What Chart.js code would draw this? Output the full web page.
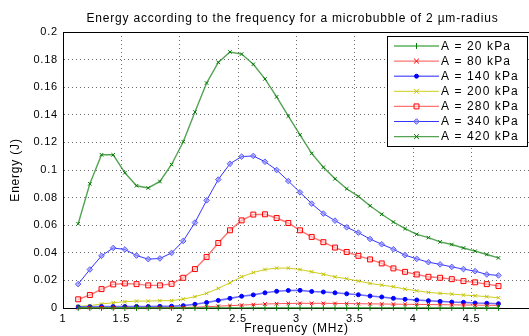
<!DOCTYPE html>
<html><head><meta charset="utf-8">
<script src="https://cdn.jsdelivr.net/npm/chart.js@4"></script>
<style>html,body{margin:0;padding:0;overflow:hidden;background:#fff}#wrap{width:535px;height:336px}</style>
</head><body><div id="wrap"><canvas id="c" width="535" height="336"></canvas></div>
<script>
const frequencies = [1.13,1.23,1.33,1.43,1.53,1.63,1.73,1.83,1.93,2.03,2.13,2.23,2.33,2.43,2.53,2.63,2.73,2.83,2.93,3.03,3.13,3.23,3.33,3.43,3.53,3.63,3.73,3.83,3.93,4.03,4.13,4.23,4.33,4.43,4.53,4.63,4.73];
const e20  = [0.0001,0.0001,0.0001,0.0001,0.0001,0.0001,0.0001,0.0001,0.0001,0.0001,0.0001,0.0002,0.0002,0.0002,0.0002,0.0002,0.0002,0.0002,0.0002,0.0002,0.0002,0.0002,0.0002,0.0002,0.0002,0.0002,0.0002,0.0002,0.0002,0.0002,0.0002,0.0001,0.0001,0.0001,0.0001,0.0001,0.0001];
const e80  = [0.0002,0.0002,0.0003,0.0003,0.0003,0.0003,0.0003,0.0003,0.0003,0.0004,0.0006,0.0009,0.0013,0.0017,0.0021,0.0025,0.0029,0.0031,0.0033,0.0034,0.0034,0.0034,0.0033,0.0032,0.0031,0.0030,0.0029,0.0028,0.0027,0.0026,0.0025,0.0024,0.0023,0.0022,0.0021,0.0020,0.0019];
const e140 = [0.0008,0.0009,0.0010,0.0010,0.0011,0.0011,0.0011,0.0012,0.0013,0.0017,0.0027,0.0040,0.0055,0.0070,0.0085,0.0095,0.0110,0.0121,0.0127,0.0128,0.0120,0.0116,0.0110,0.0103,0.0096,0.0087,0.0080,0.0070,0.0063,0.0058,0.0053,0.0048,0.0043,0.0041,0.0036,0.0034,0.0031];
const e200 = [0.0012,0.0017,0.0029,0.0038,0.0046,0.0050,0.0050,0.0053,0.0053,0.0065,0.0082,0.0106,0.0142,0.0183,0.0226,0.0257,0.0279,0.0289,0.0289,0.0279,0.0262,0.0245,0.0226,0.0212,0.0195,0.0178,0.0166,0.0154,0.0137,0.0125,0.0113,0.0106,0.0101,0.0094,0.0089,0.0082,0.0074];
const e280 = [0.0063,0.0094,0.0137,0.0171,0.0178,0.0173,0.0164,0.0164,0.0175,0.0219,0.0282,0.0370,0.0471,0.0563,0.0635,0.0677,0.0679,0.0652,0.0616,0.0563,0.0515,0.0477,0.0438,0.0406,0.0378,0.0352,0.0323,0.0287,0.0262,0.0243,0.0226,0.0219,0.0209,0.0195,0.0186,0.0173,0.0159];
const e340 = [0.0173,0.0279,0.0378,0.0435,0.0424,0.0380,0.0354,0.0359,0.0399,0.0486,0.0619,0.0780,0.0931,0.1045,0.1097,0.1102,0.1060,0.1000,0.0920,0.0838,0.0756,0.0684,0.0633,0.0585,0.0546,0.0500,0.0462,0.0426,0.0383,0.0356,0.0332,0.0316,0.0298,0.0282,0.0267,0.0243,0.0236];
const e420 = [0.0610,0.0900,0.1110,0.1110,0.0980,0.0886,0.0870,0.0917,0.1040,0.1205,0.1420,0.1630,0.1780,0.1855,0.1840,0.1766,0.1660,0.1530,0.1390,0.1255,0.1120,0.1020,0.0936,0.0864,0.0809,0.0741,0.0679,0.0623,0.0575,0.0534,0.0510,0.0479,0.0460,0.0435,0.0412,0.0388,0.0363];
const seriesLabels = ['A = 20 kPa','A = 80 kPa','A = 140 kPa','A = 200 kPa','A = 280 kPa','A = 340 kPa','A = 420 kPa'];
const xTickValues = [1,1.5,2,2.5,3,3.5,4,4.5];
const yTickValues = [0,0.02,0.04,0.06,0.08,0.1,0.12,0.14,0.16,0.18,0.2];
const chartTitle = 'Energy according to the frequency for a microbubble of 2 \u00b5m-radius';
const xTitle = 'Frequency (MHz)';
const yTitle = 'Energy (J)';

const FONT = 'Liberation Sans, Arial, sans-serif';
const seriesValues = [e20,e80,e140,e200,e280,e340,e420];
const styles = [
  {line:'rgba(40,150,40,0.75)', w:1.6, pt:'#007a00', ps:'line', r:3, rot:90, fill:'#007a00'},
  {line:'rgba(255,40,40,0.8)', w:1, pt:'#ff0000', ps:'crossRot', r:2.5, rot:0, fill:'#ff0000'},
  {line:'rgba(60,60,255,0.75)', w:1.6, pt:'#0000ff', ps:'circle', r:2, rot:0, fill:'#0000ff'},
  {line:'rgba(200,200,0,0.9)', w:1, pt:'#c0c000', ps:'crossRot', r:2.5, rot:0, fill:'#c0c000'},
  {line:'rgba(255,90,90,0.85)', w:1.4, pt:'#ff0000', ps:'rect', r:3.5, rot:0, fill:'rgba(255,220,220,0.6)'},
  {line:'rgba(30,30,255,0.9)', w:1, pt:'#5a5aff', ps:'rectRot', r:2.8, rot:0, fill:'rgba(140,140,255,0.6)'},
  {line:'rgba(40,140,40,0.8)', w:1.4, pt:'#007a00', ps:'crossRot', r:2.5, rot:0, fill:'#007a00'}
];

const datasets = seriesLabels.map((lab,i)=>({
  label: lab,
  data: frequencies.map((f,j)=>({x:f, y:seriesValues[i][j]})),
  borderColor: styles[i].line,
  borderWidth: styles[i].w,
  pointStyle: styles[i].ps,
  pointRadius: styles[i].r,
  pointRotation: styles[i].rot,
  pointBorderColor: styles[i].pt,
  pointBackgroundColor: styles[i].fill,
  pointBorderWidth: 1,
  tension: 0,
  fill: false,
  clip: false
}));

function drawMarker(ctx, s, x, y){
  ctx.save();
  ctx.strokeStyle = s.pt; ctx.fillStyle = s.fill; ctx.lineWidth = 1;
  const r = s.r;
  ctx.beginPath();
  if (s.ps === 'line') { ctx.moveTo(x, y-r); ctx.lineTo(x, y+r); ctx.stroke(); }
  else if (s.ps === 'crossRot') { const d=r*Math.SQRT1_2*1.4; ctx.moveTo(x-d,y-d); ctx.lineTo(x+d,y+d); ctx.moveTo(x+d,y-d); ctx.lineTo(x-d,y+d); ctx.stroke(); }
  else if (s.ps === 'circle') { ctx.arc(x,y,r,0,Math.PI*2); ctx.fill(); ctx.stroke(); }
  else if (s.ps === 'rect') { const d=r*Math.SQRT1_2; ctx.rect(x-d,y-d,2*d,2*d); ctx.fill(); ctx.stroke(); }
  else if (s.ps === 'rectRot') { ctx.moveTo(x,y-r); ctx.lineTo(x+r,y); ctx.lineTo(x,y+r); ctx.lineTo(x-r,y); ctx.closePath(); ctx.fill(); ctx.stroke(); }
  ctx.restore();
}

const spacing = {
  id: 'spacing',
  beforeDraw(chart){ chart.ctx.letterSpacing = '0.8px'; }
};

const boxAndLegend = {
  id: 'boxAndLegend',
  afterDraw(chart){
    const ctx = chart.ctx, a = chart.chartArea;
    ctx.save();
    ctx.strokeStyle = '#000'; ctx.lineWidth = 1;
    ctx.beginPath();
    ctx.moveTo(a.left, Math.round(a.top)+0.5); ctx.lineTo(a.right, Math.round(a.top)+0.5);
    ctx.stroke();
    // title, centred over the axes
    ctx.letterSpacing = '0.8px';
    ctx.font = '12px ' + FONT; ctx.fillStyle = '#000';
    ctx.textAlign = 'center'; ctx.textBaseline = 'middle';
    ctx.fillText(chartTitle, (a.left + a.right)/2 - 4, 19);
    // legend
    const lx = 387.5, ly = 36.5, lw = 140, lh = 110;
    ctx.fillStyle = '#fff'; ctx.fillRect(lx, ly, lw, lh);
    ctx.strokeStyle = '#000'; ctx.strokeRect(lx, ly, lw, lh);
    ctx.textBaseline = 'middle'; ctx.textAlign = 'left';
    ctx.letterSpacing = '1.1px';
    chart.data.datasets.forEach((ds,i)=>{
      const y = 46 + i*15.1;
      const s = styles[i];
      ctx.strokeStyle = s.line; ctx.lineWidth = s.w;
      ctx.beginPath(); ctx.moveTo(394, y); ctx.lineTo(439, y); ctx.stroke();
      drawMarker(ctx, s, 416.5, y);
      ctx.fillStyle = '#000';
      ctx.fillText(ds.label, 441, y+0.5);
    });
    ctx.restore();
  }
};

new Chart(document.getElementById('c'), {
  type: 'line',
  data: { datasets },
  plugins: [spacing, boxAndLegend],
  options: {
    responsive: false,
    animation: false,
    devicePixelRatio: 1,
    layout: { padding: { left: 0, right: 3, top: 32, bottom: 0 } },
    plugins: {
      legend: { display: false },
      tooltip: { enabled: false },
      title: { display: false }
    },
    scales: {
      x: {
        type: 'linear', min: 1, max: 5,
        afterBuildTicks: (sc)=>{ sc.ticks = xTickValues.map(v=>({value:v})); },
        afterFit: (sc)=>{ sc.height = 28; },
        ticks: { color: '#000', font: { family: FONT, size: 11 }, padding: 4, maxRotation: 0, autoSkip: false, callback: (v)=>String(v) },
        grid: { color: '#6a6a6a', lineWidth: 1, drawTicks: false },
        border: { display: true, color: '#000', width: 1, dash: [1,3] },
        title: { display: true, text: xTitle, color: '#000', font: { family: FONT, size: 12 }, padding: { top: 0, bottom: 0 } }
      },
      y: {
        type: 'linear', min: 0, max: 0.2,
        afterBuildTicks: (sc)=>{ sc.ticks = yTickValues.map(v=>({value:v})); },
        afterFit: (sc)=>{ sc.width = 63; },
        ticks: { color: '#000', font: { family: FONT, size: 11 }, padding: 5, autoSkip: false, callback: (v)=>String(v) },
        grid: { color: '#6a6a6a', lineWidth: 1, drawTicks: false },
        border: { display: true, color: '#000', width: 1, dash: [1,3] },
        title: { display: true, text: yTitle, color: '#000', font: { family: FONT, size: 12 }, padding: { top: 8, bottom: 8 } }
      }
    }
  }
});
</script></body></html>
